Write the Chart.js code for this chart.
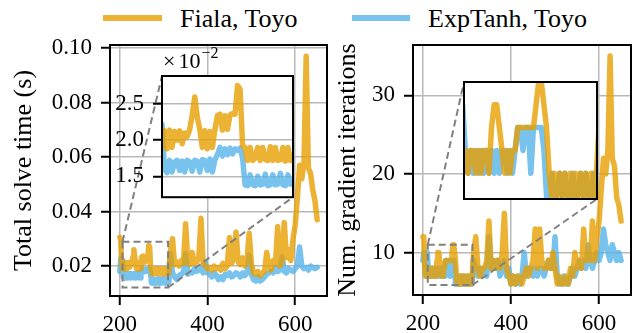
<!DOCTYPE html>
<html>
<head>
<meta charset="utf-8">
<script src="https://cdn.jsdelivr.net/npm/chart.js@4.4.0/dist/chart.umd.min.js"></script>
<style>
  body { margin: 0; background: #fff; }
  #wrap { position: relative; width: 639px; height: 333px; overflow: hidden; font-family: "Liberation Serif", "Times New Roman", "DejaVu Serif", serif; }
  canvas { position: absolute; }
  .key { position: absolute; height: 6px; }
  .lbl { position: absolute; font-size: 26px; line-height: 26px; white-space: nowrap; color: #000; }
</style>
</head>
<body>
<div id="wrap">
  <div class="key" style="left:103px;top:15px;width:59px;background:rgba(230,159,0,0.8)"></div>
  <div class="lbl" style="left:180px;top:6px">Fiala, Toyo</div>
  <div class="key" style="left:352px;top:15px;width:58px;background:rgba(86,180,233,0.8)"></div>
  <div class="lbl" style="left:428px;top:6px">ExpTanh, Toyo</div>
  <canvas id="timeChart" width="335" height="333" style="left:0;top:0"></canvas>
  <canvas id="iterChart" width="309" height="333" style="left:330px;top:0"></canvas>
  <canvas id="timeInset" width="200" height="180" style="left:100px;top:40px"></canvas>
  <canvas id="iterInset" width="141" height="125" style="left:460px;top:78px"></canvas>
</div>
<script>
// x positions (time step) shared by every series
const steps = [
  200, 202, 204, 206, 208, 210, 212, 214, 216, 218,
  220, 222, 224, 226, 228, 230, 232, 234, 236, 238,
  240, 242, 244, 246, 248, 250, 252, 254, 256, 258,
  260, 262, 264, 266, 268, 270, 272, 274, 276, 278,
  280, 282, 284, 286, 288, 290, 292, 294, 296, 298,
  300, 302, 304, 306, 308, 310, 312,
  315, 320, 325, 330, 335, 340, 345, 350, 355, 360,
  365, 370, 375, 380, 385, 390, 395, 400, 405, 410,
  415, 420, 425, 430, 435, 440, 445, 450, 455, 460,
  465, 470, 475, 480, 485, 490, 495, 500, 505, 510,
  515, 520, 525, 530, 535, 540, 545, 550, 555, 560,
  565, 570, 575, 580, 585, 590, 595, 600, 605, 610,
  615, 620, 625, 630, 635, 640, 645, 650
];

// total solve time (s)
const fialaTime = [
  0.0305, 0.0300, 0.0210, 0.0190, 0.0213, 0.0188, 0.0214, 0.0190, 0.0212, 0.0200,
  0.0213, 0.0195, 0.0210, 0.0205, 0.0215, 0.0235, 0.0260, 0.0232, 0.0215, 0.0190,
  0.0213, 0.0188, 0.0212, 0.0190, 0.0215, 0.0234, 0.0236, 0.0214, 0.0234, 0.0215,
  0.0235, 0.0237, 0.0236, 0.0276, 0.0270, 0.0192, 0.0190, 0.0172, 0.0190, 0.0172,
  0.0175, 0.0190, 0.0172, 0.0190, 0.0173, 0.0172, 0.0191, 0.0172, 0.0190, 0.0172,
  0.0173, 0.0190, 0.0171, 0.0190, 0.0172, 0.0175, 0.0190,
  0.0250, 0.0300, 0.0205, 0.0215, 0.0200, 0.0220, 0.0210, 0.0355, 0.0215, 0.0205,
  0.0250, 0.0210, 0.0215, 0.0230, 0.0375, 0.0210, 0.0200, 0.0190, 0.0195, 0.0185,
  0.0200, 0.0190, 0.0195, 0.0185, 0.0210, 0.0190, 0.0200, 0.0305, 0.0210, 0.0230,
  0.0325, 0.0215, 0.0205, 0.0230, 0.0200, 0.0220, 0.0320, 0.0210, 0.0175, 0.0170,
  0.0180, 0.0165, 0.0175, 0.0180, 0.0250, 0.0200, 0.0185, 0.0220, 0.0210, 0.0345,
  0.0200, 0.0215, 0.0360, 0.0230, 0.0260, 0.0220, 0.0300, 0.0350, 0.0450, 0.0570,
  0.0520, 0.0580, 0.0970, 0.0560, 0.0540, 0.0480, 0.0440, 0.0370
];
const expTanhTime = [
  0.0180, 0.0228, 0.0200, 0.0222, 0.0160, 0.0155, 0.0172, 0.0156, 0.0170, 0.0172,
  0.0158, 0.0171, 0.0156, 0.0172, 0.0170, 0.0157, 0.0172, 0.0171, 0.0156, 0.0173,
  0.0172, 0.0158, 0.0174, 0.0156, 0.0173, 0.0180, 0.0190, 0.0178, 0.0188, 0.0180,
  0.0189, 0.0181, 0.0188, 0.0186, 0.0189, 0.0175, 0.0138, 0.0137, 0.0152, 0.0138,
  0.0137, 0.0150, 0.0138, 0.0139, 0.0153, 0.0137, 0.0138, 0.0152, 0.0138, 0.0139,
  0.0154, 0.0138, 0.0137, 0.0152, 0.0139, 0.0140, 0.0150,
  0.0245, 0.0175, 0.0160, 0.0150, 0.0165, 0.0170, 0.0175, 0.0245, 0.0170, 0.0180,
  0.0175, 0.0190, 0.0180, 0.0185, 0.0190, 0.0175, 0.0215, 0.0175, 0.0170, 0.0160,
  0.0175, 0.0165, 0.0150, 0.0160, 0.0150, 0.0170, 0.0165, 0.0175, 0.0160, 0.0165,
  0.0175, 0.0170, 0.0160, 0.0175, 0.0165, 0.0175, 0.0240, 0.0170, 0.0150, 0.0145,
  0.0160, 0.0145, 0.0150, 0.0160, 0.0170, 0.0175, 0.0180, 0.0175, 0.0195, 0.0180,
  0.0185, 0.0235, 0.0180, 0.0175, 0.0190, 0.0185, 0.0180, 0.0190, 0.0200, 0.0270,
  0.0200, 0.0190, 0.0195, 0.0185, 0.0200, 0.0195, 0.0190, 0.0195
];

// number of gradient iterations
const fialaIters = [
  12, 12, 8, 7, 8, 7, 8, 7, 8, 8,
  7, 8, 7, 8, 8, 7, 9, 10, 10, 9,
  8, 7, 8, 7, 8, 8, 9, 9, 9, 9,
  9, 9, 9, 10, 11, 11, 10, 9, 7, 6,
  7, 6, 7, 6, 7, 6, 7, 6, 7, 6,
  7, 6, 7, 6, 7, 6, 7,
  10, 12, 8, 7, 8, 8, 9, 14, 8, 9,
  8, 9, 8, 10, 15, 8, 7, 6, 7, 6,
  7, 7, 6, 7, 8, 7, 8, 9, 13, 8,
  13, 9, 8, 8, 9, 8, 10, 8, 6, 7,
  6, 6, 7, 6, 8, 7, 10, 8, 9, 8,
  13, 9, 10, 9, 14, 9, 12, 14, 18, 22,
  20, 23, 35, 22, 21, 17, 16, 14
];
const expTanhIters = [
  9, 10, 10, 8, 7, 10, 8, 7, 8, 7,
  8, 7, 8, 7, 8, 7, 8, 7, 8, 7,
  8, 8, 7, 8, 7, 8, 9, 9, 8, 9,
  9, 7, 9, 9, 9, 9, 8, 6, 6, 7,
  6, 6, 7, 6, 7, 6, 6, 7, 6, 6,
  7, 6, 7, 6, 6, 7, 6,
  9, 8, 7, 8, 7, 8, 7, 12, 8, 9,
  8, 9, 7, 8, 9, 7, 8, 6, 7, 6,
  7, 6, 7, 10, 7, 8, 8, 7, 8, 7,
  8, 8, 7, 8, 9, 8, 8, 12, 7, 6,
  6, 7, 6, 6, 7, 8, 7, 8, 9, 8,
  9, 8, 11, 9, 8, 9, 10, 9, 10, 13,
  11, 10, 9, 11, 10, 9, 10, 9
];

const xTicks = [200, 400, 600];
const timeTicks = [0.02, 0.04, 0.06, 0.08, 0.10];
const iterTicks = [10, 20, 30];
const timeInsetTicks = [0.015, 0.020, 0.025];

// zoomed windows [xmin, xmax], [ymin, ymax]
const timeZoomX = [206, 310], timeZoomY = [0.0121, 0.0289];
const iterZoomX = [211, 312.5], iterZoomY = [5.87, 11.0];

const fialaColor = "rgba(230,159,0,0.8)";
const expTanhColor = "rgba(86,180,233,0.8)";

const FAMILY = "'Liberation Serif', 'Times New Roman', 'DejaVu Serif', serif";
Chart.defaults.font.family = FAMILY;
Chart.defaults.color = "#000";

function makeSets(a, b, clip) {
  const base = {
    borderWidth: 5.5,
    pointRadius: 0,
    tension: 0,
    borderJoinStyle: "round",
    borderCapStyle: "round",
    fill: false
  };
  if (clip !== undefined) base.clip = clip;
  return [
    Object.assign({ label: "Fiala, Toyo", borderColor: fialaColor,
      data: steps.map((x, i) => ({ x: x, y: a[i] })) }, base),
    Object.assign({ label: "ExpTanh, Toyo", borderColor: expTanhColor,
      data: steps.map((x, i) => ({ x: x, y: b[i] })) }, base)
  ];
}

// white face + black frame around plot area
const axesBox = {
  id: "axesBox",
  beforeDraw(chart) {
    const a = chart.chartArea, ctx = chart.ctx;
    ctx.save();
    ctx.fillStyle = "#fff";
    ctx.fillRect(a.left, a.top, a.right - a.left, a.bottom - a.top);
    ctx.restore();
  },
  afterDatasetsDraw(chart) {
    const a = chart.chartArea, ctx = chart.ctx;
    ctx.save();
    ctx.strokeStyle = "#000";
    ctx.lineWidth = 2;
    ctx.strokeRect(a.left, a.top, a.right - a.left, a.bottom - a.top);
    ctx.restore();
  }
};

function setTicks(values) {
  return function (scale) { scale.ticks = values.map(v => ({ value: v })); };
}

function gridOpts(show) {
  return {
    display: show,
    color: "#b8b8b8",
    lineWidth: 1.5,
    tickColor: "#000",
    tickWidth: 2,
    tickLength: 9
  };
}

const tickFont = { family: FAMILY, size: 23 };

// inset for the solve time panel
const timeInset = new Chart(document.getElementById("timeInset"), {
  type: "line",
  data: { datasets: makeSets(fialaTime, expTanhTime, 0) },
  plugins: [axesBox, {
    id: "offsetText",
    afterDraw(chart) {
      const a = chart.chartArea, ctx = chart.ctx;
      ctx.save();
      ctx.fillStyle = "#000";
      ctx.textBaseline = "alphabetic";
      ctx.font = "22px " + FAMILY;
      ctx.fillText("\u00d7", a.left + 1, a.top - 8);
      const w = ctx.measureText("\u00d7").width;
      ctx.fillText("10", a.left + w + 4, a.top - 8);
      const w2 = ctx.measureText("10").width;
      ctx.font = "16px " + FAMILY;
      ctx.fillText("\u22122", a.left + w + w2 + 5, a.top - 18);
      ctx.restore();
    }
  }],
  options: {
    responsive: false,
    animation: false,
    events: [],
    layout: { padding: { left: 0, top: 36, right: 7, bottom: 6 } },
    plugins: { legend: { display: false }, tooltip: { enabled: false } },
    scales: {
      x: { type: "linear", min: timeZoomX[0], max: timeZoomX[1], display: false },
      y: {
        min: timeZoomY[0], max: timeZoomY[1],
        afterBuildTicks: setTicks(timeInsetTicks),
        afterFit(scale) { scale.width = 62; },
        grid: gridOpts(true),
        border: { display: false },
        ticks: { font: tickFont, padding: 9, callback: v => (v * 100).toFixed(1) }
      }
    }
  }
});

// inset for the iterations panel
const iterInset = new Chart(document.getElementById("iterInset"), {
  type: "line",
  data: { datasets: makeSets(fialaIters, expTanhIters, 0) },
  plugins: [axesBox],
  options: {
    responsive: false,
    animation: false,
    events: [],
    layout: { padding: { left: 4, top: 4, right: 4, bottom: 4 } },
    plugins: { legend: { display: false }, tooltip: { enabled: false } },
    scales: {
      x: { type: "linear", min: iterZoomX[0], max: iterZoomX[1], display: false },
      y: { min: iterZoomY[0], max: iterZoomY[1], display: false }
    }
  }
});

// dashed zoom rectangle and connector lines
function zoomMarks(inset, dx, dy, zx, zy) {
  return {
    id: "zoomMarks",
    afterDatasetsDraw(chart) {
      const ctx = chart.ctx, x = chart.scales.x, y = chart.scales.y;
      const a = inset.chartArea;
      const x0 = x.getPixelForValue(zx[0]), x1 = x.getPixelForValue(zx[1]);
      const y0 = y.getPixelForValue(zy[1]), y1 = y.getPixelForValue(zy[0]);
      ctx.save();
      ctx.strokeStyle = "#808080";
      ctx.lineWidth = 2;
      ctx.setLineDash([7, 4]);
      ctx.strokeRect(x0, y0, x1 - x0, y1 - y0);
      ctx.beginPath();
      ctx.moveTo(x0, y0);
      ctx.lineTo(a.left + dx, a.top + dy);
      ctx.moveTo(x1, y1);
      ctx.lineTo(a.right + dx, a.bottom + dy);
      ctx.stroke();
      ctx.restore();
    }
  };
}

function mainChart(id, a, b, yMin, yMax, yTicks, yWidth, xHeight, title, titlePad, fmt, inset, dx, dy, zx, zy) {
  return new Chart(document.getElementById(id), {
    type: "line",
    data: { datasets: makeSets(a, b) },
    plugins: [axesBox, zoomMarks(inset, dx, dy, zx, zy)],
    options: {
      responsive: false,
      animation: false,
      events: [],
      layout: { padding: { left: 0, top: 45, right: 8, bottom: 0 } },
      plugins: { legend: { display: false }, tooltip: { enabled: false } },
      scales: {
        x: {
          type: "linear", min: 177.5, max: 672.5,
          afterBuildTicks: setTicks(xTicks),
          afterFit(scale) { scale.height = xHeight; },
          grid: gridOpts(true),
          border: { display: false },
          ticks: { font: tickFont, padding: 6, maxRotation: 0 }
        },
        y: {
          min: yMin, max: yMax,
          afterBuildTicks: setTicks(yTicks),
          afterFit(scale) { scale.width = yWidth; },
          grid: gridOpts(true),
          border: { display: false },
          ticks: { font: tickFont, padding: 9, callback: fmt },
          title: { display: true, text: title, font: { family: FAMILY, size: 26 }, padding: { top: titlePad, bottom: 0 } }
        }
      }
    }
  });
}

mainChart("timeChart", fialaTime, expTanhTime, 0.0090, 0.1011, timeTicks, 110, 37,
  "Total solve time (s)", 9, v => v.toFixed(2), timeInset, 100, 40, timeZoomX, timeZoomY);

mainChart("iterChart", fialaIters, expTanhIters, 4.6, 36.4, iterTicks, 83, 38,
  "Num. gradient iterations", 3, v => String(v), iterInset, 130, 78, iterZoomX, iterZoomY);
</script>
</body>
</html>
